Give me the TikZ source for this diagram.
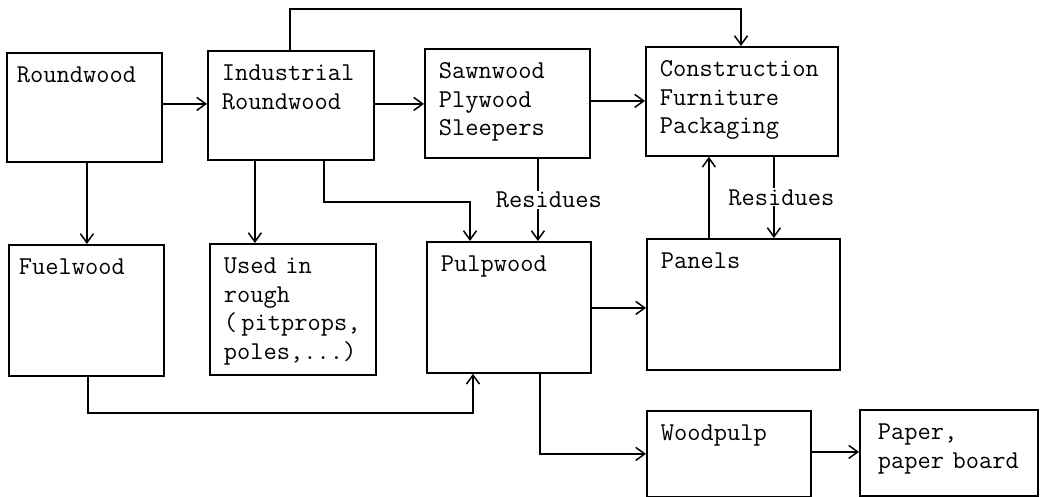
\documentclass[tikz,border=0pt]{standalone}
\usepackage{fontspec}
\usetikzlibrary{arrows.meta}
\tikzset{every node/.style={font=\ttfamily\fontsize{25.7}{28.5}\selectfont},
  box/.style={draw, line width=1.8pt, anchor=north west, align=left, inner xsep=14pt, inner ysep=0pt, text height=30pt},
  toprow/.style={box, text depth=79pt},
  midrow/.style={box, text depth=101pt},
  lowrow/.style={box, text depth=56pt},
  arr/.style={line width=1.5pt, -{Straight Barb[length=9pt,width=13pt]}},
  res/.style={fill=white, inner sep=1pt}}

\begin{document}
\begin{tikzpicture}[x=1pt,y=-1pt]
  \useasboundingbox (0,0) rectangle (1040,497);
  % boxes
  \node[toprow, inner xsep=10pt, text width=135pt] (round) at (6,52) {Roundwood};
  \node[toprow, text width=138pt] (ind)   at (207,50)  {Industrial\\Roundwood};
  \node[toprow, text width=137pt] (saw)   at (424,48)  {Sawnwood\\Plywood\\Sleepers};
  \node[toprow, text width=164pt] (cons)  at (645,46)  {Construction\\Furniture\\Packaging};
  \node[midrow, inner xsep=10pt, text width=135pt] (fuel) at (8,244) {Fuelwood};
  \node[midrow, text width=138pt] (used)  at (209,243) {Used in\\rough\\(\,pitprops,\\poles,...)};
  \node[midrow, text width=136pt] (pulp)  at (426,241) {Pulpwood};
  \node[midrow, text width=165pt] (panel) at (646,238) {Panels};
  \node[lowrow, text width=136pt] (wpulp) at (646,410) {Woodpulp};
  \node[lowrow, inner xsep=18pt, text width=142pt] (paper) at (859,409) {Paper,\\paper board};
  % corners of the bent connectors
  \coordinate (t1) at (290,9);
  \coordinate (t2) at (741,9);
  \coordinate (c1) at (470,202);
  \coordinate (c2) at (473,413);
  % connectors
  \draw[arr] ([yshift=3.5pt]round.east) -- ([yshift=3.5pt]round.east -| ind.west);
  \draw[arr] ([yshift=1.5pt]ind.east) -- ([yshift=1.5pt]ind.east -| saw.west);
  \draw[arr] ([yshift=2.5pt]saw.east) -- ([yshift=2.5pt]saw.east -| cons.west);
  \draw[arr] (t1 |- ind.north) -- (t1) -- (t2) -- (t2 |- cons.north);
  \draw[arr] ([xshift=2.5pt]round.south) -- ([xshift=2.5pt]round.south |- fuel.north);
  \draw[arr] ([xshift=-36pt]ind.south) -- ([xshift=-36pt]ind.south |- used.north);
  \draw[arr] ([xshift=33pt]ind.south) |- (c1) -- (c1 |- pulp.north);
  \draw[arr] ([xshift=30.5pt]saw.south) -- ([xshift=30.5pt]saw.south |- pulp.north)
    node[res, pos=0.5, xshift=11pt] (res1) {Residues};
  \draw[arr] ([yshift=-0.5pt]pulp.east) -- ([yshift=-0.5pt]pulp.east -| panel.west);
  \draw[arr] ([xshift=-34.5pt]panel.north) -- ([xshift=-34.5pt]panel.north |- cons.south);
  \draw[arr] ([xshift=32pt]cons.south) -- ([xshift=32pt]cons.south |- panel.north)
    node[res, pos=0.5, xshift=7.5pt] (res2) {Residues};
  \draw[arr] ([xshift=1.5pt]fuel.south) |- (c2) -- (c2 |- pulp.south);
  \draw[arr] ([xshift=31pt]pulp.south) |- (wpulp.west);
  \draw[arr] ([yshift=2pt]wpulp.east) -- ([yshift=2pt]wpulp.east -| paper.west);
\end{tikzpicture}
\end{document}
